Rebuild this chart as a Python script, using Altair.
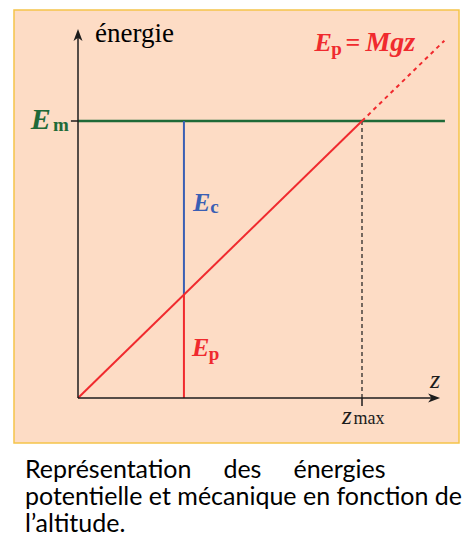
import altair as alt
import pandas as pd

# ---------------- values ----------------
# altitude z in units of z_max, energy in units of E_m
z_max = 1.0
E_m = 1.0
z_split = 0.373            # altitude where E_c and E_p are shown
z_axis_end = 1.275         # tip of the z arrow
E_axis_end = 1.332         # tip of the energy arrow
z_Em_end = 1.292           # right end of the E_m line
z_dash_end = 1.29          # end of the dashed Ep = Mgz extension
tick_len_z = 0.025
tick_len_E = 0.029

caption_lines = [
    "Représentation\u00a0\u00a0\u00a0\u00a0\u00a0des\u00a0\u00a0\u00a0\u00a0\u00a0énergies",
    "potentielle et mécanique en fonction de",
    "l\u2019altitude.",
]

# ---------------- layout ----------------
W, H = 445, 433
X0, Y0 = 64, 388
PX_Z, PX_E = 284, 277
x_dom = [-X0 / PX_Z, (W - X0) / PX_Z]
y_dom = [-(H - Y0) / PX_E, Y0 / PX_E]
xs = alt.Scale(domain=x_dom, nice=False, zero=False)
ys = alt.Scale(domain=y_dom, nice=False, zero=False)

GREEN = "#1f6a38"
BLUE = "#3a5fb4"
RED = "#f02a2e"
BLACK = "#1c1c1c"
SERIF = "Liberation Serif"


def segs(rows):
    return pd.DataFrame(rows, columns=["z", "E", "z2", "E2"])


def rules(df, color, width, dash=None, cap="butt"):
    kw = dict(color=color, strokeWidth=width, strokeCap=cap)
    if dash:
        kw["strokeDash"] = dash
    return alt.Chart(df).mark_rule(**kw).encode(
        x=alt.X("z:Q", scale=xs, axis=None),
        y=alt.Y("E:Q", scale=ys, axis=None),
        x2="z2:Q",
        y2="E2:Q",
    )


def label(text, z, E, color, size, weight="normal", style="normal", font=SERIF):
    df = pd.DataFrame({"z": [z], "E": [E], "t": [text]})
    return alt.Chart(df).mark_text(
        align="left", baseline="alphabetic", font=font, fontSize=size,
        fontWeight=weight, fontStyle=style, color=color,
    ).encode(
        x=alt.X("z:Q", scale=xs, axis=None),
        y=alt.Y("E:Q", scale=ys, axis=None),
        text="t:N",
    )


ARROW = "M0,0L0.75,2L0,1.45L-0.75,2Z"


def arrow(z, E, angle):
    df = pd.DataFrame({"z": [z], "E": [E]})
    return alt.Chart(df).mark_point(
        shape=ARROW, filled=True, size=144, color=BLACK, opacity=1,
        angle=angle, strokeWidth=0,
    ).encode(
        x=alt.X("z:Q", scale=xs, axis=None),
        y=alt.Y("E:Q", scale=ys, axis=None),
    )


axes = rules(segs([[0, 0, 0, E_axis_end - 0.02], [0, 0, z_axis_end - 0.02, 0],
                   [-tick_len_z, E_m, 0, E_m], [z_max, 0, z_max, -tick_len_E]]),
             BLACK, 1.5)
em_line = rules(segs([[0, E_m, z_Em_end, E_m]]), GREEN, 2.5)
ec_line = rules(segs([[z_split, z_split, z_split, E_m]]), BLUE, 2)
ep_line = rules(segs([[z_split, 0, z_split, z_split]]), RED, 2)
diag = rules(segs([[0, 0, z_max, E_m]]), RED, 2)
diag_dash = rules(segs([[z_max, E_m, z_dash_end, z_dash_end]]), RED, 2, dash=[4, 4])
zmax_dash = rules(segs([[z_max, 0, z_max, E_m]]), BLACK, 1.2, dash=[4, 3])

labels = [
    label("énergie", 0.060, 1.285, "black", 27),
    label("E", -0.166, 0.971, GREEN, 30, "bold", "italic"),
    label("m", -0.088, 0.964, GREEN, 19, "bold"),
    label("E", 0.405, 0.675, BLUE, 26, "bold", "italic"),
    label("c", 0.466, 0.668, BLUE, 19, "bold"),
    label("E", 0.401, 0.152, RED, 26, "bold", "italic"),
    label("p", 0.460, 0.138, RED, 19, "bold"),
    label("E", 0.833, 1.253, RED, 26, "bold", "italic"),
    label("p", 0.892, 1.238, RED, 19, "bold"),
    label("=", 0.942, 1.253, RED, 26, "bold"),
    label("Mgz", 1.012, 1.253, RED, 28, "bold", "italic"),
    label("z", 1.239, 0.036, BLACK, 26, "normal", "italic"),
    label("z", 0.930, -0.094, BLACK, 25, "normal", "italic"),
    label("max", 0.970, -0.094, BLACK, 18),
]

chart = alt.layer(
    zmax_dash, em_line, ec_line, ep_line, diag, diag_dash, axes,
    arrow(0, E_axis_end, 0), arrow(z_axis_end, 0, 90), *labels,
).properties(
    width=W,
    height=H,
    padding={"left": 6, "top": 2, "right": 6, "bottom": 94},
    autosize=alt.AutoSizeParams(type="none"),
    background="white",
    title=alt.TitleParams(
        text=caption_lines, orient="bottom", anchor="start", frame="group",
        font="Lato", fontSize=25, fontWeight="normal", color="black",
        lineHeight=27, offset=15, dx=11,
    ),
).configure_view(fill="#fddcc5", stroke="#f5c44a", strokeWidth=1.5)

chart.save("out.html", embed_options={"renderer": "svg", "actions": False})
